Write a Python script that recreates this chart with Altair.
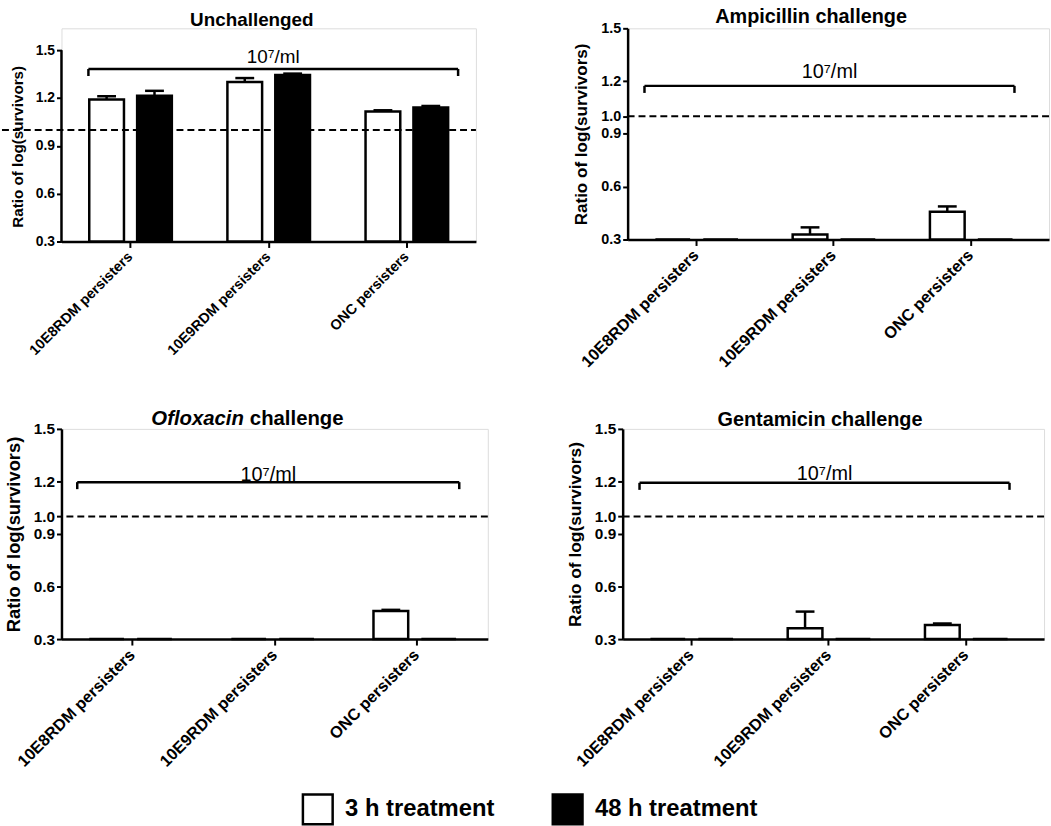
import altair as alt
import pandas as pd

categories = ["10E8RDM persisters", "10E9RDM persisters", "ONC persisters"]
treatments = ["3 h treatment", "48 h treatment"]
panel_titles = ["Unchallenged", "Ampicillin challenge", "Ofloxacin challenge", "Gentamicin challenge"]
y_title = "Ratio of log(survivors)"
bracket_text = "10\u2077/ml"

# values (ratio of log survivors) and error bar (SEM) heights
unch_3h = [1.19, 1.30, 1.115]
unch_3h_err = [0.021, 0.025, 0.008]
unch_48h = [1.214, 1.345, 1.140]
unch_48h_err = [0.031, 0.008, 0.010]

amp_3h = [0.30, 0.328, 0.458]
amp_3h_err = [0.0, 0.041, 0.030]
amp_48h = [0.30, 0.30, 0.30]
amp_48h_err = [0.0, 0.0, 0.0]

oflx_3h = [0.30, 0.30, 0.461]
oflx_3h_err = [0.0, 0.0, 0.006]
oflx_48h = [0.30, 0.30, 0.30]
oflx_48h_err = [0.0, 0.0, 0.0]

gent_3h = [0.30, 0.362, 0.381]
gent_3h_err = [0.0, 0.095, 0.008]
gent_48h = [0.30, 0.30, 0.30]
gent_48h_err = [0.0, 0.0, 0.0]

baseline = 0.3
ref_value = 1.0
ticks_a = [0.3, 0.6, 0.9, 1.2, 1.5]
ticks_b = [0.3, 0.6, 0.9, 1.0, 1.2, 1.5]

# bracket annotation: start / end as fraction of panel width, bracket level, label level
bracket_start = [0.065, 0.040, 0.037, 0.040]
bracket_end = [0.957, 0.918, 0.933, 0.918]
bracket_level = [1.382, 1.173, 1.196, 1.192]
bracket_drop = [0.044, 0.040, 0.040, 0.040]
label_level = [1.419, 1.218, 1.205, 1.211]

FONT = "Liberation Sans"


def build_df(v3, e3, v48, e48):
    rows = []
    for i, c in enumerate(categories):
        for t, v, e in ((treatments[0], v3[i], e3[i]), (treatments[1], v48[i], e48[i])):
            rows.append({"category": c, "treatment": t, "value": v, "err": e,
                         "top": v + e, "base": baseline})
    return pd.DataFrame(rows)


frames = [
    build_df(unch_3h, unch_3h_err, unch_48h, unch_48h_err),
    build_df(amp_3h, amp_3h_err, amp_48h, amp_48h_err),
    build_df(oflx_3h, oflx_3h_err, oflx_48h, oflx_48h_err),
    build_df(gent_3h, gent_3h_err, gent_48h, gent_48h_err),
]

styles = [
    dict(width=418, height=215, ymax=1.637, ticks=ticks_a, xpo=0.0, xalign=0.5,
         spi=0.275, spo=0.58, ylab=14, ytitle=15.3, xlab=14.5, tsize=19,
         tx=192, ty=-8, dash=True, titleY=119, lsize=19),
    dict(width=425, height=213, ymax=1.5, ticks=ticks_b, xpo=0.035, xalign=0.0,
         spi=0.258, spo=0.557, ylab=14.5, ytitle=17.2, xlab=16.5, tsize=20,
         tx=185, ty=-11, dash=False, titleY=None, lsize=20),
    dict(width=430, height=212, ymax=1.5, ticks=ticks_b, xpo=0.0, xalign=0.5,
         spi=0.427, spo=0.42, ylab=15.5, ytitle=18.5, xlab=16.5, tsize=20.5,
         tx=187, ty=-10, dash=False, titleY=None, lsize=20),
    dict(width=425, height=212, ymax=1.5, ticks=ticks_b, xpo=0.035, xalign=0.0,
         spi=0.258, spo=0.557, ylab=15.5, ytitle=17.5, xlab=16.5, tsize=20,
         tx=199, ty=-9, dash=False, titleY=None, lsize=20),
]

legend = alt.Legend(
    orient="none", legendX=242, legendY=771, direction="horizontal", title=None,
    symbolType="square", symbolSize=900, symbolStrokeColor="black",
    symbolStrokeWidth=2.5, symbolOpacity=1, labelFont=FONT, labelFontSize=24,
    labelFontWeight="bold", labelColor="black", labelOffset=11, columnPadding=53,
    labelLimit=400,
)


def make_panel(idx):
    df = frames[idx]
    st = styles[idx]
    xscale = alt.Scale(domain=categories, paddingInner=0, paddingOuter=st["xpo"], align=st["xalign"])
    xoff_scale = alt.Scale(domain=treatments, paddingInner=st["spi"], paddingOuter=st["spo"])
    yscale = alt.Scale(domain=[baseline, st["ymax"]], nice=False, zero=False)
    yaxis_kw = dict(values=st["ticks"], format=".1f", labelFont=FONT, labelFontSize=st["ylab"],
                    labelFontWeight="bold", labelColor="black", titleFont=FONT,
                    titleFontSize=st["ytitle"], titleFontWeight="bold", titleColor="black",
                    domain=not st["dash"], domainColor="black", domainWidth=2.5,
                    tickColor="black", tickWidth=2, tickSize=5, labelPadding=2,
                    titlePadding=10, grid=False)
    if st["titleY"] is not None:
        yaxis_kw["titleY"] = st["titleY"]
    yaxis = alt.Axis(**yaxis_kw)
    xaxis = alt.Axis(labelAngle=-45, labelAlign="right", labelBaseline="middle",
                     labelFont=FONT, labelFontSize=st["xlab"], labelFontWeight="bold",
                     labelColor="black", domainColor="black", domainWidth=2.5,
                     tickColor="black", tickWidth=2, tickSize=6, labelPadding=7,
                     labelLimit=300, grid=False)

    base = alt.Chart(df)
    x_enc = alt.X("category:N", scale=xscale, axis=xaxis, title=None, sort=categories)
    xo_enc = alt.XOffset("treatment:N", scale=xoff_scale, sort=treatments)

    bars = base.mark_bar(stroke="black", strokeWidth=2.5, opacity=1).encode(
        x=x_enc, xOffset=xo_enc,
        y=alt.Y("value:Q", scale=yscale, axis=yaxis, title=y_title),
        y2=alt.Y2("base:Q"),
        color=alt.Color("treatment:N", scale=alt.Scale(domain=treatments, range=["white", "black"]),
                        legend=legend),
    )
    errs = base.transform_filter("datum.err > 0").mark_rule(color="black", strokeWidth=2.5).encode(
        x=x_enc, xOffset=xo_enc, y="value:Q", y2="top:Q")
    caps = base.transform_filter("datum.err > 0").mark_tick(
        orient="horizontal", color="black", size=19, thickness=2.5, opacity=1).encode(
        x=x_enc, xOffset=xo_enc, y="top:Q")

    ref_df = pd.DataFrame({"ref": [ref_value]})
    if st["dash"]:
        dashed = alt.Chart(ref_df).mark_rule(color="black", strokeWidth=2, strokeDash=[7, 4]).encode(
            y="ref:Q", x=alt.value(-60), x2=alt.value(st["width"]))
        yline = alt.Chart(pd.DataFrame({"lo": [baseline], "hi": [ticks_a[-1]]})).mark_rule(
            color="black", strokeWidth=2.5).encode(x=alt.value(0), y="lo:Q", y2="hi:Q")
        inner = alt.layer(bars, errs, caps, dashed, yline)
    else:
        dashed = alt.Chart(ref_df).mark_rule(color="black", strokeWidth=2, strokeDash=[7, 4]).encode(
            y="ref:Q")
        inner = alt.layer(bars, errs, caps, dashed)

    fx = alt.Scale(domain=[0, 1], nice=False, zero=False)
    br_df = pd.DataFrame({"x0": [bracket_start[idx]], "x1": [bracket_end[idx]],
                          "y": [bracket_level[idx]],
                          "mid": [(bracket_start[idx] + bracket_end[idx]) / 2],
                          "ly": [label_level[idx]], "label": [bracket_text]})
    ends_df = pd.DataFrame({"x": [bracket_start[idx], bracket_end[idx]],
                            "y": [bracket_level[idx]] * 2,
                            "y2": [bracket_level[idx] - bracket_drop[idx]] * 2})
    br_line = alt.Chart(br_df).mark_rule(color="black", strokeWidth=2.5).encode(
        x=alt.X("x0:Q", scale=fx, axis=None), x2="x1:Q", y="y:Q")
    br_ends = alt.Chart(ends_df).mark_rule(color="black", strokeWidth=2.5).encode(
        x=alt.X("x:Q", scale=fx, axis=None), y="y:Q", y2="y2:Q")
    br_text = alt.Chart(br_df).mark_text(font=FONT, fontSize=st["lsize"], color="black",
                                         baseline="alphabetic", align="center").encode(
        x=alt.X("mid:Q", scale=fx, axis=None), y="ly:Q", text="label:N")
    bracket = alt.layer(br_line, br_ends, br_text)

    title = panel_titles[idx]
    if idx == 2:
        words = title.split(" ", 1)
        t_df = pd.DataFrame({"a": [words[0]], "b": [words[1]]})
        t1 = alt.Chart(t_df).mark_text(font=FONT, fontSize=st["tsize"], fontWeight="bold",
                                       fontStyle="italic", align="right", baseline="middle",
                                       color="black").encode(
            text="a:N", x=alt.value(st["tx"] - 3), y=alt.value(st["ty"]))
        t2 = alt.Chart(t_df).mark_text(font=FONT, fontSize=st["tsize"], fontWeight="bold",
                                       align="left", baseline="middle", color="black").encode(
            text="b:N", x=alt.value(st["tx"] + 3), y=alt.value(st["ty"]))
        titles = alt.layer(t1, t2)
    else:
        t_df = pd.DataFrame({"t": [title]})
        titles = alt.Chart(t_df).mark_text(font=FONT, fontSize=st["tsize"], fontWeight="bold",
                                           align="center", baseline="middle", color="black").encode(
            text="t:N", x=alt.value(st["tx"]), y=alt.value(st["ty"]))

    return alt.layer(inner, bracket, titles).resolve_scale(x="independent").properties(
        width=st["width"], height=st["height"])


p = [make_panel(i) for i in range(4)]

chart = alt.vconcat(
    alt.hconcat(p[0], p[1], spacing=95),
    alt.hconcat(p[2], p[3], spacing=76),
    spacing=37,
).properties(
    padding={"left": 0, "top": 3, "right": 0, "bottom": 0},
    background="white",
).configure_view(stroke=None).configure(font=FONT)

chart.save("out.html", embed_options={"renderer": "svg", "actions": False})
